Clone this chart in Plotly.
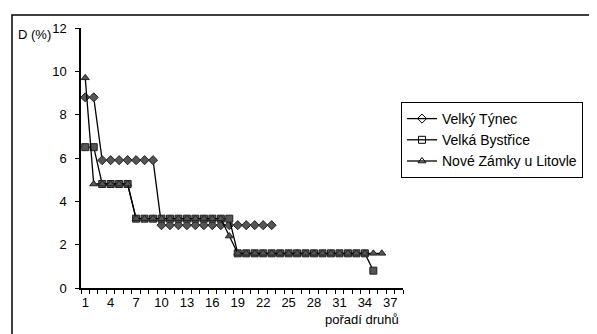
import plotly.graph_objects as go

ranks_tynec = list(range(1, 24))
tynec = [8.8, 8.8] + [5.9] * 7 + [2.9] * 14

ranks_bystrice = list(range(1, 36))
bystrice = [6.5, 6.5] + [4.8] * 4 + [3.2] * 12 + [1.6] * 16 + [0.8]

ranks_zamky = list(range(1, 37))
zamky = [9.7] + [4.8] * 5 + [3.2] * 11 + [2.4] + [1.6] * 18

names = ["Velký Týnec", "Velká Bystřice", "Nové Zámky u Litovle"]
symbols = ["diamond", "square", "triangle-up"]
xtick_vals = list(range(1, 38, 3))
ytick_vals = [0, 2, 4, 6, 8, 10, 12]

W, H = 597, 334
L, R, T, B = 73, 395, 20, 280

fig = go.Figure()
series = [(ranks_tynec, tynec), (ranks_bystrice, bystrice), (ranks_zamky, zamky)]
for (xs, ys), sym in zip(series, symbols):
    fig.add_trace(go.Scatter(
        x=xs, y=ys, mode="lines+markers", showlegend=False,
        line=dict(color="black", width=1.3),
        marker=dict(symbol=sym, size=7, color="#555555",
                    line=dict(color="#222222", width=1))))
for name, sym in zip(names, symbols):
    fig.add_trace(go.Scatter(
        x=[None], y=[None], mode="lines+markers", name=name,
        line=dict(color="black", width=1.3),
        marker=dict(symbol=sym + "-open", size=7, color="black",
                    line=dict(width=1))))

fig.update_layout(
    width=W, height=H,
    margin=dict(l=L, r=W - R, t=T, b=H - B),
    paper_bgcolor="white", plot_bgcolor="white",
    font=dict(family="Liberation Sans, Arial, sans-serif", size=13, color="black"),
    xaxis=dict(range=[0.5, 38.5], tickmode="array", tickvals=xtick_vals,
               ticktext=[str(v) for v in xtick_vals], ticks="", ticklen=0,
               ticklabelstandoff=2,
               showgrid=False, zeroline=False, showline=True, linecolor="black",
               linewidth=1.5,
               minor=dict(tick0=0.5, dtick=1, ticks="outside", ticklen=4,
                          tickcolor="black", showgrid=False),
               tickfont=dict(size=13)),
    yaxis=dict(range=[0, 12], tickmode="array", tickvals=ytick_vals,
               ticks="outside", ticklen=4, tickcolor="black",
               ticklabelstandoff=6,
               showgrid=False, zeroline=False, showline=True, linecolor="black",
               linewidth=1.5, tickfont=dict(size=13)),
    legend=dict(x=(393 - L) / (R - L), y=(B - 94) / (B - T),
                xanchor="left", yanchor="top",
                bordercolor="black", borderwidth=1, bgcolor="white",
                font=dict(size=14), tracegroupgap=0, itemwidth=30),
    annotations=[
        dict(text="D (%)", xref="paper", yref="paper",
             x=(8 - L) / (R - L), y=(B - 26) / (B - T),
             xanchor="left", yanchor="middle", showarrow=False,
             font=dict(size=13)),
        dict(text="pořadí druhů", xref="paper", yref="paper",
             x=(393 - L) / (R - L), y=(B - 311) / (B - T),
             xanchor="right", yanchor="middle", showarrow=False,
             font=dict(size=13)),
    ],
    shapes=[dict(type="rect", xref="paper", yref="paper",
                 x0=(4 - L) / (R - L), x1=(595 - L) / (R - L),
                 y0=(B - 329) / (B - T), y1=(B - 7) / (B - T),
                 line=dict(color="black", width=1.5))],
)

fig.write_html("out.html")
